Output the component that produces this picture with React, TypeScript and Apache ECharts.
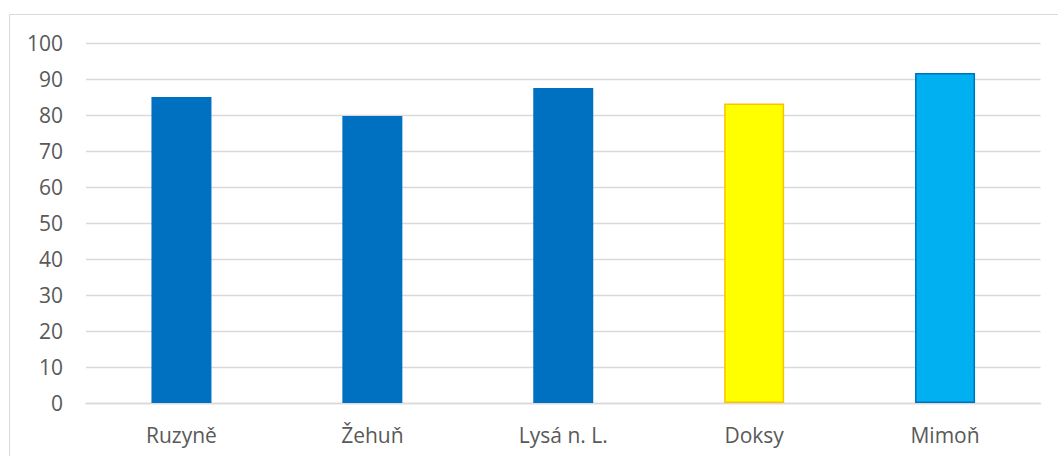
import React, { useEffect, useRef } from "react";
import * as echarts from "echarts";

const categories = ["Ruzyně", "Žehuň", "Lysá n. L.", "Doksy", "Mimoň"];
const values = [85.0, 79.7, 87.5, 83.2, 91.7];
const yTicks = [0, 10, 20, 30, 40, 50, 60, 70, 80, 90, 100];

const barFills = ["#0070C0", "#0070C0", "#0070C0", "#FFFF00", "#00B0F0"];
const barBorders = ["#0070C0", "#0070C0", "#0070C0", "#FFC000", "#0070C0"];
const barBorderWidths = [0, 0, 0, 1.5, 1.5];

export default function App() {
  const ref = useRef<HTMLDivElement>(null);
  useEffect(() => {
    if (!ref.current) return;
    const chart = echarts.init(ref.current, null, { renderer: "svg" });
    const font = "'Open Sans', 'Liberation Sans', sans-serif";
    chart.setOption({
      animation: false,
      backgroundColor: "#ffffff",
      graphic: [
        {
          type: "rect",
          shape: { x: 9.5, y: 14.5, width: 1100, height: 500 },
          style: { fill: "none", stroke: "#D9D9D9", lineWidth: 1 },
          silent: true,
        },
      ],
      grid: { left: 86, right: 17.5, top: 43, bottom: 53, containLabel: false },
      xAxis: {
        type: "category",
        data: categories,
        axisLine: { show: true, lineStyle: { color: "#D9D9D9", width: 1.3 } },
        axisTick: { show: false },
        axisLabel: {
          color: "#595959",
          fontFamily: font,
          fontSize: 21,
          lineHeight: 21,
          margin: 21,
        },
      },
      yAxis: {
        type: "value",
        min: yTicks[0],
        max: yTicks[yTicks.length - 1],
        interval: 10,
        axisLine: { show: false },
        axisTick: { show: false },
        splitLine: { lineStyle: { color: "#D9D9D9", width: 1.3 } },
        axisLabel: {
          color: "#595959",
          fontFamily: font,
          fontSize: 21,
          margin: 23,
        },
      },
      series: [
        {
          type: "bar",
          barWidth: 60,
          data: values.map((v, i) => ({
            value: v,
            itemStyle: {
              color: barFills[i],
              borderColor: barBorders[i],
              borderWidth: barBorderWidths[i],
            },
          })),
        },
      ],
    });
    return () => chart.dispose();
  }, []);
  return (
    <div
      ref={ref}
      style={{ position: "absolute", left: 0, top: 0, width: 1058, height: 456 }}
    />
  );
}
